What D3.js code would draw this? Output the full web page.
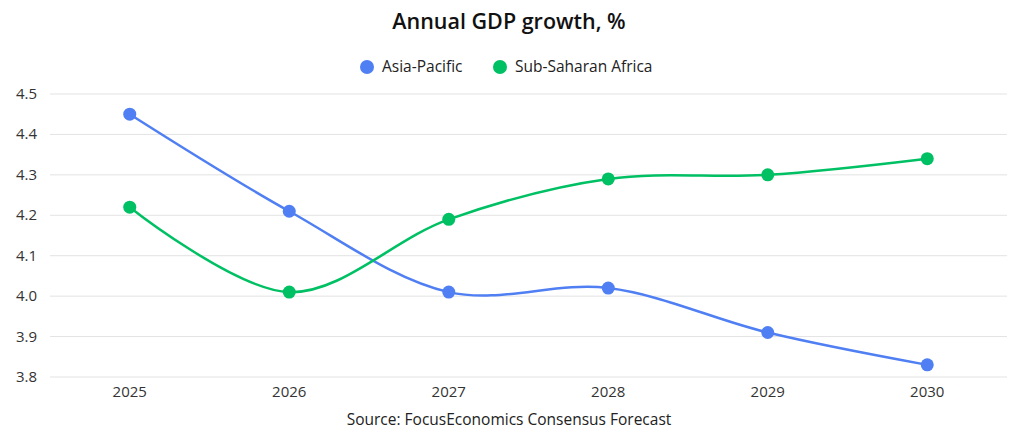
<!DOCTYPE html>
<html><head><meta charset="utf-8">
<script src="https://cdn.jsdelivr.net/npm/d3@7"></script>
<style>body{margin:0;background:#fff}svg{display:block;font-family:"Open Sans",sans-serif}</style>
</head><body><svg id="c" width="1024" height="441"></svg>
<script>
const years = ["2025","2026","2027","2028","2029","2030"];
const asiaPacific = [4.45, 4.21, 4.01, 4.02, 3.91, 3.83];
const subSaharan = [4.22, 4.01, 4.19, 4.29, 4.30, 4.34];
const yTicks = [3.8, 3.9, 4.0, 4.1, 4.2, 4.3, 4.4, 4.5];
const seriesNames = ["Asia-Pacific", "Sub-Saharan Africa"];
const colors = ["#4f7ff3", "#00c064"];

const svg = d3.select("#c");
const x = d3.scaleBand().domain(years).range([50, 1007]);
const y = d3.scaleLinear().domain([3.8, 4.5]).range([377, 94]);

svg.append("text").attr("x", 509).attr("y", 29).attr("text-anchor","middle")
  .attr("font-size", 21.5).attr("font-weight", 600).attr("fill","#111").text("Annual GDP growth, %");

svg.append("g").selectAll("line").data(yTicks).join("line")
  .attr("x1", 50).attr("x2", 1007).attr("y1", d=>y(d)).attr("y2", d=>y(d))
  .attr("stroke", "#e3e3e3").attr("stroke-width", 1);
svg.append("g").selectAll("text").data(yTicks).join("text")
  .attr("x", 37).attr("y", d=>y(d)+5).attr("text-anchor","end")
  .attr("font-size", 15).attr("fill","#333").text(d=>d.toFixed(1));
svg.append("g").selectAll("text").data(years).join("text")
  .attr("x", d=>x(d)+x.bandwidth()/2).attr("y", 397).attr("text-anchor","middle")
  .attr("font-size", 15).attr("fill","#333").text(d=>d);

const data = [asiaPacific, subSaharan];
const line = d3.line().x((d,i)=>x(years[i])+x.bandwidth()/2).y(d=>y(d)).curve(d3.curveCatmullRom.alpha(0.5));
data.forEach((vals, k) => {
  svg.append("path").attr("d", line(vals)).attr("fill","none").attr("stroke", colors[k]).attr("stroke-width", 2.5);
  svg.append("g").selectAll("circle").data(vals).join("circle")
    .attr("cx", (d,i)=>x(years[i])+x.bandwidth()/2).attr("cy", d=>y(d)).attr("r", 6.5).attr("fill", colors[k]);
});

const leg = [{x:367, n:0},{x:500, n:1}];
leg.forEach(l => {
  svg.append("circle").attr("cx", l.x).attr("cy", 67).attr("r", 7).attr("fill", colors[l.n]);
  svg.append("text").attr("x", l.x+15).attr("y", 72).attr("font-size", 15.5).attr("fill","#222").text(seriesNames[l.n]);
});

svg.append("text").attr("x", 509).attr("y", 425).attr("text-anchor","middle")
  .attr("font-size", 15.5).attr("fill","#222").text("Source: FocusEconomics Consensus Forecast");
</script></body></html>
